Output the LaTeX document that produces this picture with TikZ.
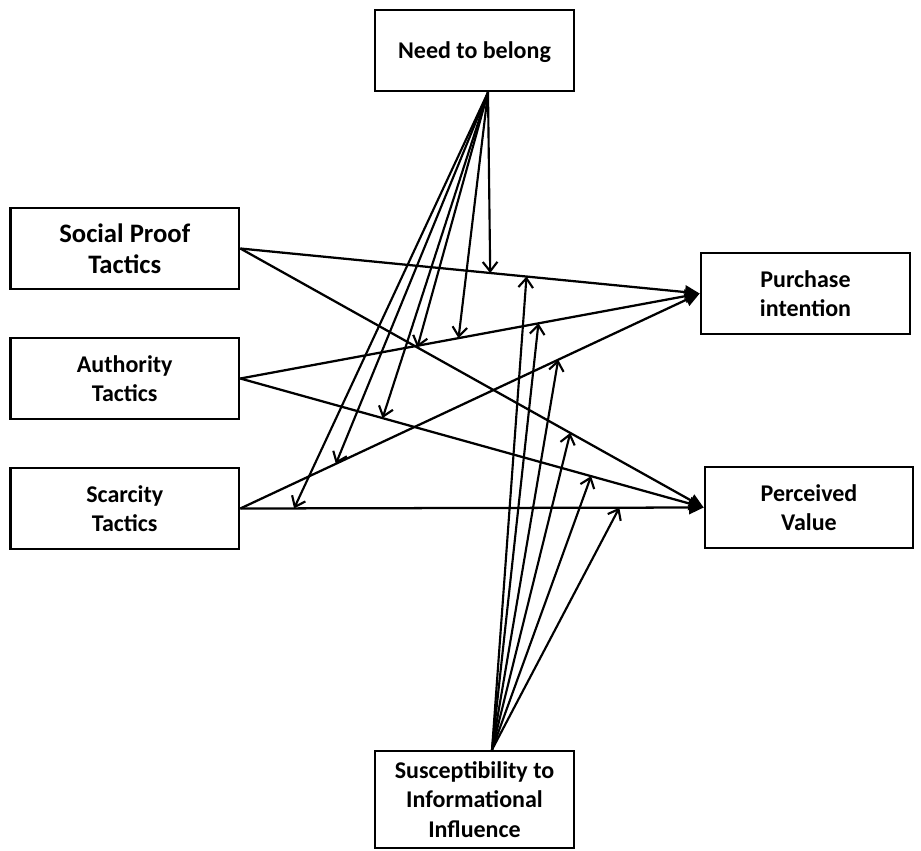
\documentclass[tikz,border=0pt]{standalone}
\usepackage{fontspec}
\setmainfont{Carlito}
\usetikzlibrary{arrows.meta,calc}

\tikzset{
  box/.style={draw, line width=2pt, rectangle, inner sep=0pt, align=center,
    font=\bfseries\fontsize{18}{22}\selectfont,
    minimum height=81*0.75pt, text depth=-2pt},
  path/.style={line width=1.7pt, -{Triangle[length=11pt,width=10pt]}},
  moder/.style={line width=1.6pt, -{Straight Barb[length=7pt,width=11pt,line width=1.6pt]}}
}

\begin{document}
\begin{tikzpicture}[x=0.75pt,y=-0.75pt]
  \useasboundingbox (0,0) rectangle (921,850);

  % constructs
  \node[box, minimum width=199*0.75pt] (need) at (474.5,50.5) {Need to belong};
  \node[box, minimum width=228.5*0.75pt, font=\bfseries\fontsize{20}{23}\selectfont] (sp) at (124.75,248.5) {Social Proof\\Tactics};
  \node[box, minimum width=228.5*0.75pt] (au) at (124.75,378.5) {Authority\\Tactics};
  \node[box, minimum width=228.5*0.75pt] (sc) at (124.75,508.5) {Scarcity\\Tactics};
  \node[box, minimum width=209*0.75pt] (pi) at (805.5,293.5) {Purchase\\intention};
  \node[box, minimum width=208*0.75pt] (pv) at (809,507.5) {Perceived\\Value};
  \node[box, minimum width=199*0.75pt, minimum height=97*0.75pt] (su) at (474.5,799.5) {Susceptibility to\\Informational\\Influence};

  % moderator origins
  \coordinate (nb) at ([xshift=13.5*0.75pt]need.south);
  \coordinate (si) at ([xshift=17.5*0.75pt]su.north);

  % direct effects, with anchor points for the moderating arrows
  \draw[path] (sp.east) -- coordinate[pos=0.544] (n1) coordinate[pos=0.623] (s1) (pi.west);
  \draw[path] (au.east) -- coordinate[pos=0.475] (n2) coordinate[pos=0.649] (s2) (pi.west);
  \draw[path] (sc.east) -- coordinate[pos=0.208] (n3) coordinate[pos=0.692] (s3) (pi.west);
  \draw[path] (sp.east) -- coordinate[pos=0.382] (n4) coordinate[pos=0.712] (s4) (pv.west);
  \draw[path] (au.east) -- coordinate[pos=0.307] (n5) coordinate[pos=0.757] (s5) (pv.west);
  \draw[path] (sc.east) -- coordinate[pos=0.116] (n6) coordinate[pos=0.818] (s6) (pv.west);

  % moderation by need to belong
  \foreach \t in {n1,n2,n3,n4,n5,n6}
    \draw[moder] (nb) -- (\t);

  % moderation by susceptibility to informational influence
  \foreach \t in {s1,s2,s3,s4,s5,s6}
    \draw[moder] (si) -- (\t);
\end{tikzpicture}
\end{document}
